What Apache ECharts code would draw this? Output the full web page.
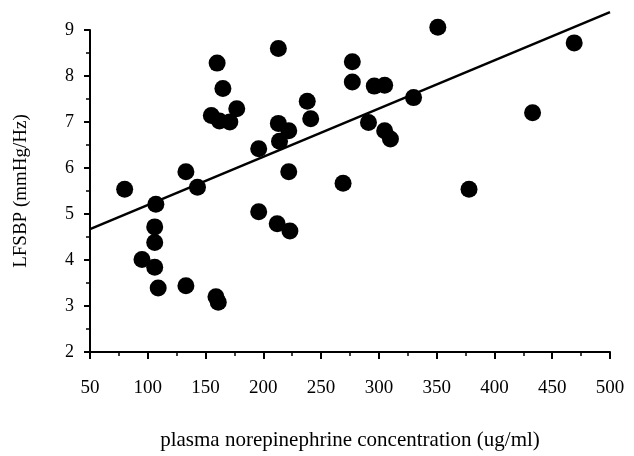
<!DOCTYPE html>
<html>
<head>
<meta charset="utf-8">
<script src="https://cdn.jsdelivr.net/npm/echarts@6/dist/echarts.min.js"></script>
<style>
  html, body { margin: 0; padding: 0; background: #fff; }
  #chart { width: 634px; height: 456px; }
</style>
</head>
<body>
<div id="chart"></div>
<script>
// Plasma norepinephrine (ug/ml) for each subject
const norepinephrine = [
  80, 107, 106, 106, 95, 106, 109, 133, 133, 143,
  160, 165, 155, 162, 171, 177, 159, 161, 196, 196,
  213, 213, 214, 222, 222, 212, 223, 238, 241, 269,
  277, 277, 296, 305, 291, 305, 310, 330, 351, 378,
  433, 469
];
// Low-frequency systolic blood pressure variability (mmHg/Hz)
const lfsbp = [
  5.54, 5.21, 4.72, 4.38, 4.01, 3.84, 3.39, 3.44, 5.92, 5.58,
  8.28, 7.73, 7.14, 7.02, 7.00, 7.29, 3.20, 3.08, 6.42, 5.05,
  8.60, 6.97, 6.58, 6.81, 5.92, 4.79, 4.63, 7.45, 7.07, 5.67,
  8.31, 7.87, 7.78, 7.80, 6.99, 6.81, 6.63, 7.53, 9.06, 5.54,
  7.20, 8.72
];
// Regression line end points
const fitX = [50, 500];
const fitY = [4.67, 9.39];

const xTicks = { min: 50, max: 500, step: 50 };
const yTicks = { min: 2, max: 9, step: 1 };

const points = norepinephrine.map((x, i) => [x, lfsbp[i]]);
const fitLine = fitX.map((x, i) => [x, fitY[i]]);

const serif = '"Liberation Serif", "Times New Roman", serif';
const chart = echarts.init(document.getElementById('chart'), null, { renderer: 'canvas' });

chart.setOption({
  animation: false,
  backgroundColor: '#fff',
  grid: { left: 90, right: 24, top: 30, bottom: 96, containLabel: false },
  xAxis: {
    type: 'value',
    min: xTicks.min, max: xTicks.max, interval: xTicks.step,
    name: 'plasma norepinephrine concentration (ug/ml)',
    nameLocation: 'middle', nameGap: 78,
    nameTextStyle: { fontFamily: serif, fontSize: 21, color: '#000' },
    axisLine: { lineStyle: { color: '#000', width: 2 } },
    axisTick: { show: true, length: 7, lineStyle: { color: '#000', width: 2 } },
    minorTick: { show: true, splitNumber: 2, length: 4, lineStyle: { color: '#000', width: 1.5 } },
    axisLabel: { fontFamily: serif, fontSize: 19, color: '#000', margin: 27 },
    splitLine: { show: false }
  },
  yAxis: {
    type: 'value',
    min: yTicks.min, max: yTicks.max, interval: yTicks.step,
    name: 'LFSBP (mmHg/Hz)',
    nameLocation: 'middle', nameGap: 59, nameRotate: 90,
    nameTextStyle: { fontFamily: serif, fontSize: 19, color: '#000' },
    axisLine: { show: true, lineStyle: { color: '#000', width: 2 } },
    axisTick: { show: true, length: 6, lineStyle: { color: '#000', width: 2 } },
    minorTick: { show: true, splitNumber: 2, length: 4, lineStyle: { color: '#000', width: 1.5 } },
    axisLabel: { fontFamily: serif, fontSize: 18, color: '#000', margin: 16 },
    splitLine: { show: false }
  },
  series: [
    {
      type: 'line',
      data: fitLine,
      symbol: 'none',
      clip: false,
      lineStyle: { color: '#000', width: 2.5 },
      z: 2
    },
    {
      type: 'scatter',
      data: points,
      symbol: 'circle',
      symbolSize: 17,
      clip: false,
      itemStyle: { color: '#000', opacity: 1 },
      z: 3
    }
  ]
});
</script>
</body>
</html>
